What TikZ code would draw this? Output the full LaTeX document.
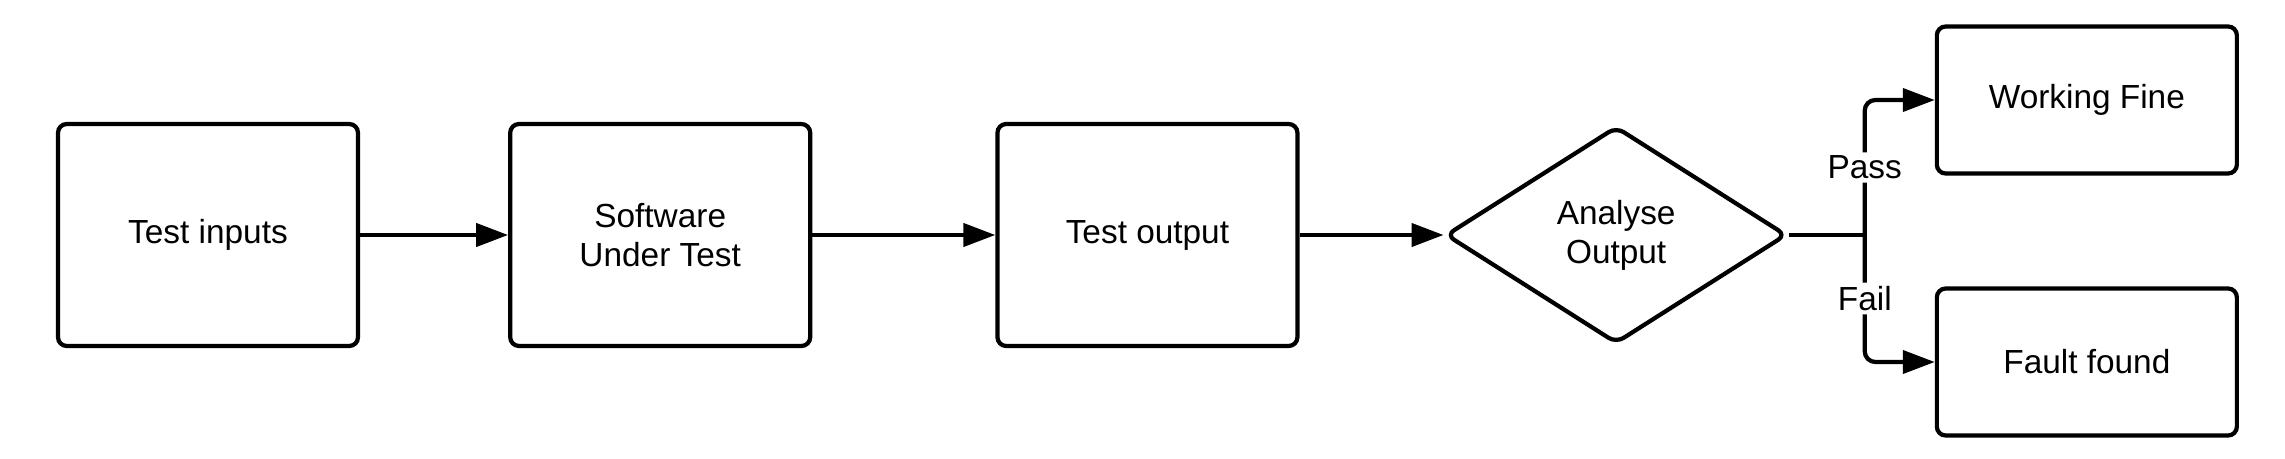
\documentclass[tikz,border=0pt]{standalone}
\usepackage{fontspec}
\setmainfont{Liberation Sans}
\usepackage{tikz}
\usetikzlibrary{positioning, arrows.meta, shapes.geometric, calc}

\begin{document}
\begin{tikzpicture}[->,>={Triangle[length=3.2mm, width=2.3mm]}, line width=1.2pt, node distance=1.48cm,
  font=\fontsize{9.5}{11.1}\selectfont,
  box/.style={draw, rounded corners=2.5pt, minimum width=3.0cm, minimum height=2.22cm, align=center},
  result/.style={box, minimum height=1.47cm},
  decision/.style={draw, diamond, rounded corners=2.5pt, inner sep=0pt, minimum width=3.41cm, minimum height=2.17cm, align=center},
  lbl/.style={fill=white, inner sep=1pt}]
  \useasboundingbox (0,0) rectangle (22.85,-4.59);
  \node[box]      (in)   at (2.08,-2.35)          {Test inputs};
  \node[box]      (sut)  [right=of in]            {Software\\Under Test};
  \node[box]      (out)  [right=1.83cm of sut]    {Test output};
  \node[decision] (ana)  [right=1.44cm of out]    {Analyse\\Output};
  \node[result]   (ok)   [right=1.46cm of ana, yshift=1.35cm]  {Working Fine};
  \node[result]   (bad)  [right=1.46cm of ana, yshift=-1.27cm] {Fault found};
  \coordinate (split) at ($(ana.east)+(0.76,0)$);
  \path
    (in)  edge (sut)
    (sut) edge (out)
    (out) edge (ana);
  \draw[-] (ana.east) -- (split);
  \draw[rounded corners=3pt] (split) |- node[lbl, pos=0.25] {Pass} (ok.west);
  \draw[rounded corners=3pt] (split) |- node[lbl, pos=0.25] {Fail} (bad.west);
\end{tikzpicture}
\end{document}
